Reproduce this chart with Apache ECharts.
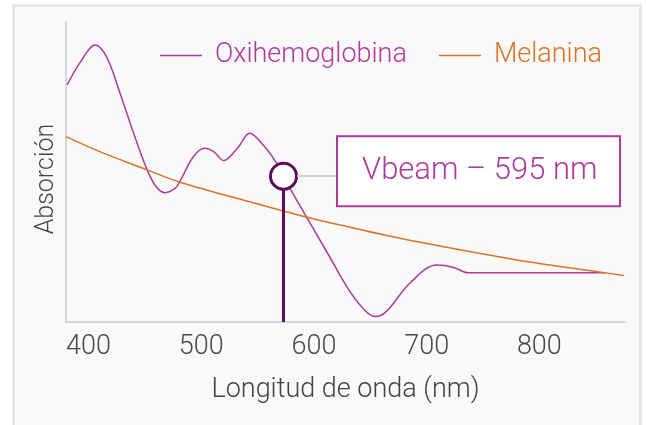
<!DOCTYPE html>
<html>
<head>
<meta charset="utf-8">
<script src="https://cdn.jsdelivr.net/npm/echarts@6/dist/echarts.min.js"></script>
<style>
  html, body { margin: 0; padding: 0; background: #ffffff; }
  #frame { position: absolute; left: 12px; top: 4px; width: 624px; height: 440px;
           border: 3px solid #e8e8e8; background: #f9f9f9; }
  #chart { position: absolute; left: 0; top: 0; width: 646px; height: 425px; }
</style>
</head>
<body>
<div id="frame"></div>
<div id="chart"></div>
<script>
// ---- data ----
const oxiWavelength = [381, 392, 406, 416, 428, 440, 452, 460, 468, 477, 481, 493, 503, 511, 520, 532, 543, 555, 567, 573, 592, 612, 632, 646, 655, 665, 685, 709, 724, 737, 858];
const oxiAbsorption = [79.0, 86.2, 92.3, 88.4, 76.2, 62.9, 50.7, 45.1, 43.1, 44.6, 46.8, 55.1, 57.9, 56.8, 53.8, 57.9, 62.9, 59.0, 52.9, 48.4, 35.9, 23.0, 10.1, 3.6, 1.8, 3.8, 12.9, 19.0, 18.2, 16.4, 16.4];
const melWavelength = [380, 410, 452, 481, 543, 592, 632, 691, 780, 858, 875];
const melAbsorption = [61.8, 56.8, 50.7, 46.6, 40.1, 35.1, 31.6, 26.8, 20.7, 16.4, 15.5];
const tickValues = [400, 500, 600, 700, 800];
const vbeamWavelength = 573;      // where the marker is drawn in the picture
const vbeamAbsorption = 48.6;
const vbeamLabel = 'Vbeam – 595 nm';
const connectorEnd = 619.6;       // wavelength at the box's left edge
const seriesNames = ['Oxihemoglobina', 'Melanina'];

const F = 'Roboto, "Liberation Sans", sans-serif';
const OXI = '#b0399c', MEL = '#db7227', DARK = '#5c0b59';

const zip = (a, b) => a.map((v, i) => [v, b[i]]);

const chart = echarts.init(document.getElementById('chart'), null, { renderer: 'canvas' });
chart.setOption({
  animation: false,
  backgroundColor: 'transparent',
  grid: { left: 66, right: 21, top: 22, bottom: 103 },
  legend: {
    left: 155, top: 37,
    icon: 'rect', itemWidth: 42, itemHeight: 1.5, itemGap: 32,
    data: [
      { name: seriesNames[0], textStyle: { color: OXI } },
      { name: seriesNames[1], textStyle: { color: MEL } }
    ],
    textStyle: { fontSize: 27, fontFamily: F, fontWeight: 300, padding: [0, 0, 0, 8] }
  },
  xAxis: {
    type: 'value', min: 380, max: 876,
    axisLine: { lineStyle: { color: '#d6d6d6', width: 2 } },
    axisTick: { show: false },
    splitLine: { show: false },
    axisLabel: { customValues: tickValues, fontSize: 27, color: '#4a4a4a', fontFamily: F, fontWeight: 300, margin: 12 },
    name: 'Longitud de onda (nm)', nameLocation: 'middle', nameGap: 55,
    nameTextStyle: { fontSize: 27, color: '#444', fontFamily: F, fontWeight: 300 }
  },
  yAxis: {
    type: 'value', min: 0, max: 100,
    axisLine: { show: true, lineStyle: { color: '#d6d6d6', width: 2 } },
    axisTick: { show: false },
    splitLine: { show: false },
    axisLabel: { show: false },
    name: 'Absorción', nameLocation: 'middle', nameGap: 7,
    nameTextStyle: { fontSize: 25, color: '#444', fontFamily: F, fontWeight: 300, padding: [0, 14, 0, 0] }
  },
  series: [
    {
      name: seriesNames[0], type: 'line', data: zip(oxiWavelength, oxiAbsorption),
      symbol: 'none', smooth: 0.35,
      lineStyle: { color: OXI, width: 1.5 }, itemStyle: { color: OXI }
    },
    {
      name: seriesNames[1], type: 'line', data: zip(melWavelength, melAbsorption),
      symbol: 'none', smooth: 0.35,
      lineStyle: { color: MEL, width: 1.5 }, itemStyle: { color: MEL }
    },
    {
      name: 'Vbeam', type: 'line',
      lineStyle: { color: DARK, width: 3 },
      data: [
        { value: [vbeamWavelength, 0], symbol: 'none' },
        {
          value: [vbeamWavelength, vbeamAbsorption], symbol: 'circle', symbolSize: 26,
          itemStyle: { color: '#ffffff', borderColor: DARK, borderWidth: 3 },
          label: {
            show: true, position: 'right', distance: 40, offset: [0, -5],
            formatter: vbeamLabel, color: OXI, fontSize: 31, fontFamily: F, fontWeight: 300,
            backgroundColor: '#ffffff', borderColor: OXI, borderWidth: 2,
            padding: [14, 0, 14, 24], width: 257, lineHeight: 40, align: 'left'
          }
        }
      ],
      markLine: {
        silent: true, symbol: ['none', 'none'], label: { show: false },
        lineStyle: { color: '#d0d0d0', width: 2, type: 'solid' },
        data: [[{ coord: [vbeamWavelength + 12, vbeamAbsorption] }, { coord: [connectorEnd, vbeamAbsorption] }]]
      }
    }
  ]
});
</script>
</body>
</html>
